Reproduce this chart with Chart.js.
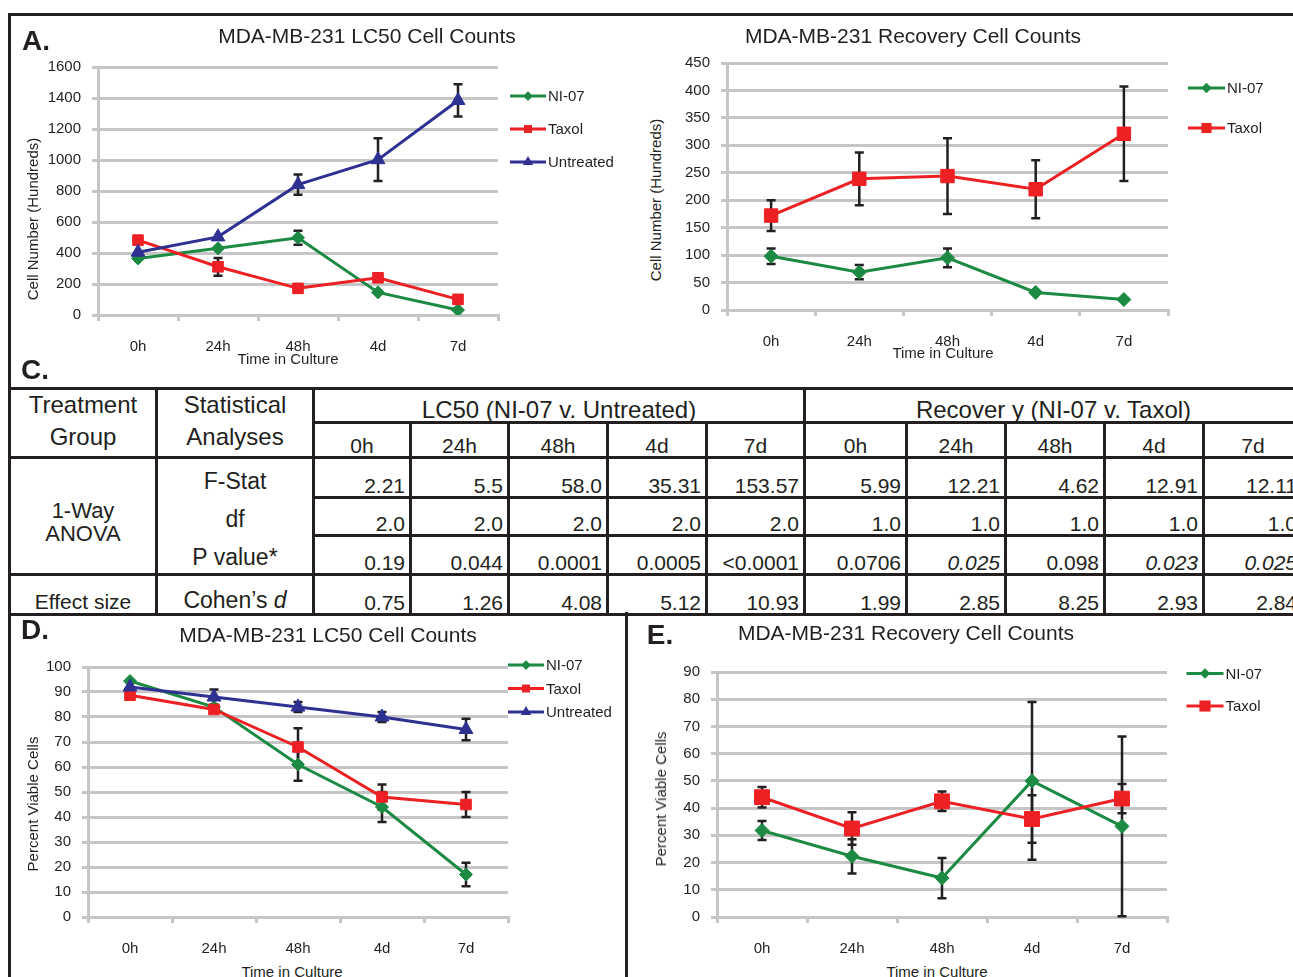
<!DOCTYPE html>
<html>
<head>
<meta charset="utf-8">
<script src="https://cdn.jsdelivr.net/npm/chart.js@4/dist/chart.umd.min.js"></script>
<style>
  html, body { margin: 0; padding: 0; width: 1293px; height: 977px; overflow: hidden; background: #fff; }
  body { position: relative; font-family: "Liberation Sans", Arial, sans-serif; color: #231f20; }
  canvas { position: absolute; }
  .rule { position: absolute; background: #231f20; }
  .label { position: absolute; font-weight: bold; font-size: 28px; line-height: 28px; transform: translate(-50%, -50%); }
  .title { position: absolute; font-size: 21px; line-height: 22px; white-space: nowrap; transform: translate(-50%, -50%); }
  .xtitle { position: absolute; font-size: 15px; line-height: 16px; white-space: nowrap; transform: translate(-50%, -50%); }
  .ytitle { position: absolute; font-size: 15px; line-height: 16px; white-space: nowrap; transform: translate(-50%, -50%) rotate(-90deg); }
  #stats { position: absolute; left: 8px; top: 387px; border-collapse: collapse; table-layout: fixed; width: 1293px; }
  #stats td { border: 3px solid #231f20; padding: 0; white-space: nowrap; overflow: hidden; }
  #stats .head { font-size: 24px; line-height: 32px; text-align: center; vertical-align: middle; }
  #stats .head div { position: relative; top: -2px; }
  #stats .group { font-size: 24px; line-height: 22px; text-align: center; vertical-align: bottom; }
  #stats .time { font-size: 21px; line-height: 20px; text-align: center; vertical-align: bottom; }
  #stats .num { font-size: 21px; line-height: 20px; text-align: right; vertical-align: bottom; padding-right: 4px; }
  #stats .anova { font-size: 22px; line-height: 23px; text-align: center; vertical-align: middle; }
  #stats .anova div { position: relative; top: 6px; }
  #stats .stat { font-size: 23px; line-height: 38px; text-align: center; vertical-align: middle; }
  #stats .stat div { position: relative; top: 3px; }
  #stats .effect { font-size: 21px; line-height: 20px; text-align: center; vertical-align: bottom; padding-bottom: 1px; }
  #stats .cohen { font-size: 23px; line-height: 24px; text-align: center; vertical-align: bottom; padding-bottom: 1px; }
</style>
</head>
<body>
<div class="rule" style="left:8px;top:13px;width:1290px;height:3px"></div>
<div class="rule" style="left:8px;top:13px;width:3px;height:970px"></div>
<div class="rule" style="left:625px;top:612px;width:3px;height:370px"></div>

<canvas id="chartA" width="602" height="318" style="left:38px;top:37px"></canvas>
<canvas id="chartB" width="623" height="317" style="left:667px;top:33px"></canvas>
<canvas id="chartD" width="594" height="320" style="left:28px;top:637px"></canvas>
<canvas id="chartE" width="633" height="315" style="left:657px;top:642px"></canvas>

<table id="stats"></table>

<div class="label" style="left:36px;top:41px">A.</div>
<div class="label" style="left:35px;top:370px">C.</div>
<div class="label" style="left:35px;top:630px">D.</div>
<div class="label" style="left:660px;top:635px">E.</div>

<div class="title" style="left:367px;top:36px">MDA-MB-231 LC50 Cell Counts</div>
<div class="title" style="left:913px;top:36px">MDA-MB-231 Recovery Cell Counts</div>
<div class="title" style="left:328px;top:635px">MDA-MB-231 LC50 Cell Counts</div>
<div class="title" style="left:906px;top:633px">MDA-MB-231 Recovery Cell Counts</div>

<div class="ytitle" style="left:33px;top:219px">Cell Number (Hundreds)</div>
<div class="ytitle" style="left:656px;top:200px">Cell Number (Hundreds)</div>
<div class="ytitle" style="left:33px;top:804px">Percent Viable Cells</div>
<div class="ytitle" style="left:661px;top:799px">Percent Viable Cells</div>

<div class="xtitle" style="left:288px;top:359px">Time in Culture</div>
<div class="xtitle" style="left:943px;top:353px">Time in Culture</div>
<div class="xtitle" style="left:292px;top:972px">Time in Culture</div>
<div class="xtitle" style="left:937px;top:972px">Time in Culture</div>

<script>
const timeLabels = ["0h", "24h", "48h", "4d", "7d"]

// A. LC50 cell counts (hundreds)
const lc50CountNi07 = [365, 430, 498, 146, 32]
const lc50CountNi07Err = [0, 0, 45, 0, 0]
const lc50CountTaxol = [483, 311, 172, 240, 101]
const lc50CountTaxolErr = [0, 57, 0, 0, 0]
const lc50CountUntreated = [405, 504, 841, 1002, 1384]
const lc50CountUntreatedErr = [0, 0, 65, 138, 104]

// B. recovery cell counts (hundreds)
const recCountNi07 = [98, 69, 95, 32, 19]
const recCountNi07Err = [14, 13, 17, 0, 0]
const recCountTaxol = [172, 239, 244, 220, 321]
const recCountTaxolErr = [28, 48, 69, 53, 86]

// D. LC50 percent viable
const lc50ViableNi07 = [94.4, 84, 61, 44, 17]
const lc50ViableNi07Err = [0, 0, 6.5, 6, 4.7]
const lc50ViableTaxol = [88.7, 83, 68, 48, 45]
const lc50ViableTaxolErr = [0, 0, 7.5, 5, 5]
const lc50ViableUntreated = [92, 88, 84, 80, 75]
const lc50ViableUntreatedErr = [0, 3, 2, 2, 4.3]

// E. recovery percent viable
const recViableNi07 = [31.8, 22.3, 14.3, 50, 33.3]
const recViableNi07Err = [3.5, 6.3, 7.4, 29, 33]
const recViableTaxol = [44, 32.5, 42.5, 36, 43.5]
const recViableTaxolErr = [3.8, 6, 3.6, 8.7, 5.4]

// C. statistics table
const tableTimes = ["0h", "24h", "48h", "4d", "7d"]
const fStat = ["2.21", "5.5", "58.0", "35.31", "153.57", "5.99", "12.21", "4.62", "12.91", "12.11"]
const degFree = ["2.0", "2.0", "2.0", "2.0", "2.0", "1.0", "1.0", "1.0", "1.0", "1.0"]
const pValue = ["0.19", "0.044", "0.0001", "0.0005", "<0.0001", "0.0706", "0.025", "0.098", "0.023", "0.025"]
const pItalic = [false, false, false, false, false, false, true, false, true, true]
const cohensD = ["0.75", "1.26", "4.08", "5.12", "10.93", "1.99", "2.85", "8.25", "2.93", "2.84"]

const green = "#1c8a42"
const red = "#ed2024"
const navy = "#2e3192"
const grid = "#c6c6c6"
const ink = "#231f20"
const fontFamily = '"Liberation Sans", Arial, sans-serif'

Chart.defaults.font.family = fontFamily
Chart.defaults.color = ink

const errorBars = {
    id: "errorBars",
    beforeDatasetsDraw(chart) {
        const ctx = chart.ctx
        const y = chart.scales.y
        ctx.save()
        ctx.strokeStyle = ink
        ctx.lineWidth = 2.5
        chart.data.datasets.forEach((ds, i) => {
            const points = chart.getDatasetMeta(i).data
            ds.errors.forEach((err, j) => {
                if (!err) return
                const x = points[j].x
                const top = y.getPixelForValue(ds.data[j] + err)
                const bottom = y.getPixelForValue(ds.data[j] - err)
                ctx.beginPath()
                ctx.moveTo(x, top)
                ctx.lineTo(x, bottom)
                ctx.moveTo(x - 4.5, top)
                ctx.lineTo(x + 4.5, top)
                ctx.moveTo(x - 4.5, bottom)
                ctx.lineTo(x + 4.5, bottom)
                ctx.stroke()
            })
        })
        ctx.restore()
    }
}

// legend entries drawn as a line with the series marker, like the original
const lineLegend = {
    id: "lineLegend",
    afterDraw(chart, args, opts) {
        const { ctx, chartArea } = chart
        ctx.save()
        ctx.font = "15px " + fontFamily
        ctx.textBaseline = "middle"
        chart.data.datasets.forEach((ds, i) => {
            const x = chartArea.right + opts.dx
            const y = chartArea.top + opts.dy + i * opts.spacing
            ctx.strokeStyle = ds.borderColor
            ctx.fillStyle = ds.borderColor
            ctx.lineWidth = 3
            ctx.beginPath()
            ctx.moveTo(x, y)
            ctx.lineTo(x + opts.length, y)
            ctx.stroke()
            Chart.helpers.drawPoint(ctx, {
                pointStyle: ds.pointStyle,
                radius: ds.pointRadius * 0.75,
                rotation: 0,
                borderWidth: 0
            }, x + opts.length / 2, y)
            ctx.fillStyle = ink
            ctx.fillText(ds.label, x + opts.length + 2, y + 1)
        })
        ctx.restore()
    }
}

function series(label, data, errors, color, pointStyle, pointRadius, order) {
    return {
        label, data, errors, order, pointStyle, pointRadius,
        borderColor: color,
        backgroundColor: color,
        pointBackgroundColor: color,
        pointBorderColor: color,
        pointBorderWidth: 1,
        pointHoverRadius: pointRadius,
        borderWidth: 3,
        tension: 0,
        fill: false
    }
}

function lineChart(id, datasets, yMax, yStep, padRight, legend) {
    return new Chart(document.getElementById(id), {
        type: "line",
        data: { labels: timeLabels, datasets },
        options: {
            responsive: false,
            animation: false,
            events: [],
            layout: { padding: { top: 30, right: padRight, bottom: 0, left: 0 } },
            plugins: {
                legend: { display: false },
                tooltip: { enabled: false },
                lineLegend: legend
            },
            scales: {
                x: {
                    offset: true,
                    grid: { offset: true, drawOnChartArea: false, tickLength: 6, color: grid, lineWidth: 3 },
                    border: { color: grid, width: 3 },
                    ticks: { font: { size: 15 }, color: ink, padding: 17 },
                    afterFit: (scale) => { scale.height = 40 }
                },
                y: {
                    min: 0,
                    max: yMax,
                    ticks: {
                        stepSize: yStep,
                        font: { size: 15 },
                        color: ink,
                        padding: 11,
                        format: { useGrouping: false }
                    },
                    grid: { color: grid, lineWidth: 3, tickLength: 6 },
                    border: { color: grid, width: 3 },
                    afterFit: (scale) => { scale.width = 60 }
                }
            }
        },
        plugins: [errorBars, lineLegend]
    })
}

lineChart("chartA", [
    series("NI-07", lc50CountNi07, lc50CountNi07Err, green, "rectRot", 6.5, 3),
    series("Taxol", lc50CountTaxol, lc50CountTaxolErr, red, "rect", 7.5, 2),
    series("Untreated", lc50CountUntreated, lc50CountUntreatedErr, navy, "triangle", 8, 1)
], 1600, 200, 142, { dx: 12, dy: 29, spacing: 33, length: 36 })

lineChart("chartB", [
    series("NI-07", recCountNi07, recCountNi07Err, green, "rectRot", 7, 2),
    series("Taxol", recCountTaxol, recCountTaxolErr, red, "rect", 9.5, 1)
], 450, 50, 122, { dx: 20, dy: 25, spacing: 40, length: 37 })

lineChart("chartD", [
    series("NI-07", lc50ViableNi07, lc50ViableNi07Err, green, "rectRot", 6.5, 3),
    series("Taxol", lc50ViableTaxol, lc50ViableTaxolErr, red, "rect", 7.5, 2),
    series("Untreated", lc50ViableUntreated, lc50ViableUntreatedErr, navy, "triangle", 8, 1)
], 100, 10, 114, { dx: 0, dy: -2, spacing: 23.5, length: 36 })

lineChart("chartE", [
    series("NI-07", recViableNi07, recViableNi07Err, green, "rectRot", 7, 2),
    series("Taxol", recViableTaxol, recViableTaxolErr, red, "rect", 10.5, 1)
], 90, 10, 123, { dx: 19.5, dy: 1.5, spacing: 32.5, length: 37 })

const colWidths = [147, 157, 97, 98, 99, 99, 98, 102, 99, 99, 99, 99]
const numCells = (vals, italic) => vals.map((v, i) =>
    `<td class="num">${italic && italic[i] ? "<i>" + v + "</i>" : v}</td>`).join("")

document.getElementById("stats").innerHTML = `
<colgroup>${colWidths.map(w => `<col style="width:${w}px">`).join("")}</colgroup>
<tr style="height:34px">
  <td rowspan="2" class="head"><div>Treatment<br>Group</div></td>
  <td rowspan="2" class="head"><div>Statistical<br>Analyses</div></td>
  <td colspan="5" class="group">LC50 (NI-07 v. Untreated)</td>
  <td colspan="5" class="group">Recover y (NI-07 v. Taxol)</td>
</tr>
<tr style="height:35px">${tableTimes.concat(tableTimes).map(t => `<td class="time">${t}</td>`).join("")}</tr>
<tr style="height:39px">
  <td rowspan="3" class="anova"><div>1-Way<br>ANOVA</div></td>
  <td rowspan="3" class="stat"><div>F-Stat<br>df<br>P value*</div></td>
  ${numCells(fStat)}
</tr>
<tr style="height:38px">${numCells(degFree)}</tr>
<tr style="height:38px">${numCells(pValue, pItalic)}</tr>
<tr style="height:40px">
  <td class="effect">Effect size</td>
  <td class="cohen">Cohen’s <i>d</i></td>
  ${numCells(cohensD)}
</tr>`
</script>
</body>
</html>
